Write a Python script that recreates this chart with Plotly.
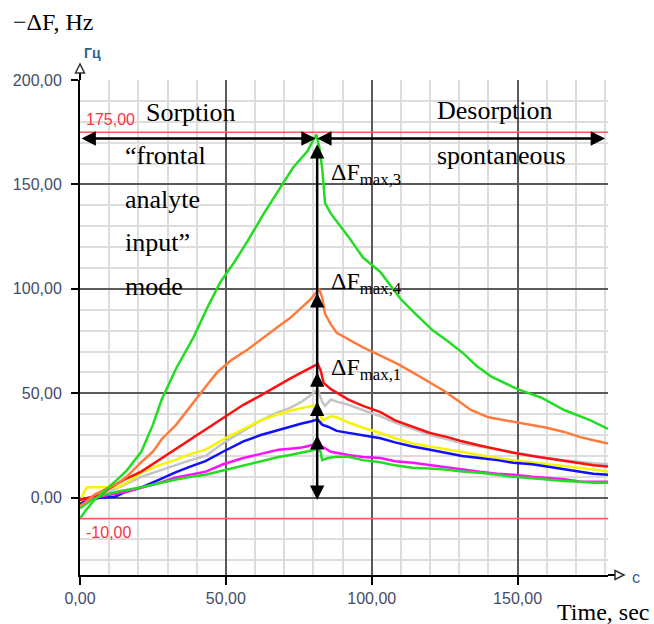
import plotly.graph_objects as go

# ---------------- data ----------------
green_big_t = [0, 2, 5, 10, 13, 16, 21, 25, 28, 33, 39, 44, 48, 53, 57.5, 63, 69, 73, 78, 81, 82, 83, 84, 86, 92, 97, 103, 110, 115, 121, 126, 131.5, 136, 141, 150, 158, 166, 175, 181]
green_big_v = [-10, -6, -1, 5, 9, 13, 22, 35, 47, 62, 77, 92, 103, 113, 123, 136, 149, 158, 166, 174, 168, 158, 141, 136, 125, 115, 108, 95, 88, 80, 75, 69, 63, 58, 52, 48, 42, 37, 33]

orange_t = [0, 2, 5, 10, 13, 16, 21, 25, 28, 33, 39, 43, 47, 52, 57.5, 63, 68, 72, 76, 79, 82, 83, 84, 86, 88, 92, 97, 103, 109, 114, 120, 125, 129, 134, 140, 148.6, 155, 160, 166, 171.5, 176, 181]
orange_v = [-4, -2, 1.5, 5, 7, 10, 17, 22, 28, 35, 46, 53, 60, 66, 71, 77, 82, 86, 91, 95, 100, 96, 88, 83, 79, 76, 72, 68, 64, 60, 55, 51, 47, 42, 38.5, 36.5, 35, 33.5, 31.5, 29, 27.5, 26]

red_t = [0, 3, 7, 10, 15, 21, 27, 32.5, 38, 43, 48, 52, 56, 62, 68, 72, 76, 79, 81.5, 82.5, 83.5, 86, 92, 97, 103, 108, 114, 120, 126, 131, 137, 143, 148.6, 155, 160, 166, 171.5, 176, 181]
red_v = [-1, 0, 1.5, 4.5, 8.5, 12.5, 18, 23, 28, 32.5, 37, 40.5, 44.5, 49, 54, 57, 60, 62, 64, 61, 55, 52, 47, 44, 41, 37, 34, 31, 29, 27, 25, 23, 21.5, 20, 19, 17.5, 16.5, 15.5, 15]

gray_t = [0, 5, 10, 15, 21, 27, 32.5, 38, 43, 50, 56, 62, 68, 72, 76, 79, 81.5, 83, 84, 86, 88, 92, 97, 103, 108, 114, 120, 126, 131, 137, 143, 148.6, 155, 160, 166, 171.5, 176, 181]
gray_v = [-2, 0, 3, 6, 10, 13, 15.5, 18, 20, 27, 32, 37, 41, 43, 46, 49, 52, 46, 44, 47, 46, 44.5, 42, 39, 36, 33, 30, 28, 26, 24.5, 23, 21.5, 20, 19, 18, 17, 16.5, 16]

yellow_t = [0, 1.5, 2.5, 8, 13, 17, 21, 27, 32.5, 38, 43, 50.5, 56, 62, 68, 73, 78, 81.5, 83, 86, 88, 92, 97, 103, 108, 114, 120, 126, 131, 137, 143, 148.6, 155, 160, 166, 171.5, 176, 181]
yellow_v = [-2.4, 3, 5, 5, 5, 8, 12, 15.5, 18, 21, 23, 29, 33, 37, 40, 42, 43.5, 44.5, 37, 39, 38.5, 36, 33.5, 31, 28.5, 26, 24.5, 23, 22, 20.5, 19, 18, 17, 16, 15, 14.5, 13.5, 12.5]

blue_t = [0, 3, 7, 12, 16, 21, 27, 32.5, 38, 43, 49, 56, 62, 68, 72, 76, 79, 81.5, 83, 85, 88, 92, 97, 103, 108, 114, 120, 126, 131, 137, 143, 148.6, 155, 160, 166, 171.5, 176, 181]
blue_v = [-3, -1, 0, 0.5, 3, 5, 8.5, 12, 15, 17.5, 22, 27, 30, 32.5, 34, 35.5, 36.5, 37.5, 35, 34, 32, 31, 30, 28.5, 26.5, 24.5, 23, 21.5, 20, 19, 18, 16.7, 16, 15, 13.5, 12.4, 11.5, 11]

magenta_t = [0, 5, 10, 15, 21, 27, 32.5, 38, 43, 49, 56, 62, 68, 72, 76, 79, 81.5, 83, 86, 92, 97, 103, 108, 114, 120, 126, 131, 137, 143, 148.6, 155, 160, 166, 171.5, 176, 181]
magenta_v = [-1, 0, 1.4, 2.5, 4.8, 7, 9.6, 11, 12.4, 16, 19, 21, 23, 23.5, 24, 25, 26, 24.5, 22, 20.5, 19.5, 19, 17.5, 16.7, 15.5, 14.4, 13.5, 12.4, 11.5, 11, 10, 9.6, 8.8, 7.7, 7.7, 7.7]

green_small_t = [0, 3, 7, 13, 21, 27, 32.5, 38, 43, 49, 56, 62, 68, 72, 76, 79, 81.5, 82.5, 83, 85, 88, 92, 97, 103, 108, 114, 120, 126, 131, 137, 143, 148.6, 155, 160, 166, 171.5, 176, 181]
green_small_v = [-5, -2, 1, 3, 5, 7, 8.6, 10, 11, 13, 15.5, 17.5, 19.5, 20.5, 21.5, 22.5, 23.5, 22, 18, 19, 19.6, 19.6, 18, 17, 15.5, 14.4, 14, 13.4, 12.5, 12, 11, 10, 9.3, 8.6, 8, 7.7, 7.2, 7.2]

x_tick_vals = [0, 50, 100, 150]
x_tick_text = ["0,00", "50,00", "100,00", "150,00"]
y_tick_vals = [0, 50, 100, 150, 200]
y_tick_text = ["0,00", "50,00", "100,00", "150,00", "200,00"]

limit_values = [175, -10]
limit_labels = ["175,00", "-10,00"]

peak_time = 80.8
arrow_level = 172
up_head_tips = [98, 60, 46, 30]

# ---------------- figure ----------------
W, H = 654, 624
L, R, T, B = 80, 46, 80, 49
PW, PH = W - L - R, H - T - B


def px(xp):
    return (xp - L) / PW


def py(yp):
    return (H - B - yp) / PH


fig = go.Figure()

series = [
    (gray_t, gray_v, "#c4c4c4"),
    (yellow_t, yellow_v, "#f5f500"),
    (blue_t, blue_v, "#1010ff"),
    (magenta_t, magenta_v, "#ff10ff"),
    (green_small_t, green_small_v, "#22dd22"),
    (red_t, red_v, "#ff1010"),
    (orange_t, orange_v, "#ff7a3c"),
    (green_big_t, green_big_v, "#22dd22"),
]
for t, v, c in series:
    fig.add_trace(go.Scatter(x=t, y=v, mode="lines", line=dict(color=c, width=2.5),
                             hoverinfo="skip", showlegend=False))

tick_font = dict(family="Liberation Sans, Arial", size=16, color="#464a6a")

fig.update_layout(
    width=W, height=H,
    margin=dict(l=L, r=R, t=T, b=B),
    paper_bgcolor="white", plot_bgcolor="white",
    showlegend=False,
    xaxis=dict(range=[0, 181], tickmode="array", tickvals=x_tick_vals, ticktext=x_tick_text,
               showgrid=True, gridcolor="#5a5a5a", gridwidth=1.5, zeroline=False,
               showline=True, linecolor="black", linewidth=2,
               ticks="outside", ticklen=8, tickwidth=1.5, tickcolor="black",
               tickfont=tick_font,
               minor=dict(tickmode="linear", tick0=0, dtick=10, showgrid=True,
                          gridcolor="#dddddd", gridwidth=2, ticks="")),
    yaxis=dict(range=[-37, 200], tickmode="array", tickvals=y_tick_vals, ticktext=y_tick_text,
               showgrid=True, gridcolor="#5a5a5a", gridwidth=1.5, zeroline=False,
               showline=True, linecolor="black", linewidth=2,
               ticks="outside", ticklen=7, tickwidth=1.5, tickcolor="black",
               tickfont=tick_font, ticklabelstandoff=6,
               minor=dict(tickmode="linear", tick0=0, dtick=10, showgrid=True,
                          gridcolor="#dddddd", gridwidth=2, ticks="")),
)

# red limit lines
for val, lab in zip(limit_values, limit_labels):
    fig.add_shape(type="line", xref="paper", x0=0, x1=1, yref="y", y0=val, y1=val,
                  line=dict(color="#ff5a5a", width=1.5), layer="above")
    fig.add_annotation(x=1.5, y=val, xref="x", yref="y", text=lab, showarrow=False,
                       xanchor="left", yanchor="bottom" if val > 0 else "top",
                       yshift=2 if val > 0 else -3,
                       font=dict(family="Liberation Sans, Arial", size=16, color="#ff3045"))

# axis extensions with hollow arrow heads
fig.add_shape(type="line", xref="paper", yref="paper", x0=0, x1=0, y0=1, y1=py(72),
              line=dict(color="black", width=2))
fig.add_shape(type="path", xref="paper", yref="paper",
              path=f"M {px(80)},{py(64)} L {px(75.5)},{py(73)} L {px(84.5)},{py(73)} Z",
              fillcolor="white", line=dict(color="#333333", width=1.5))
fig.add_shape(type="line", xref="paper", yref="paper", x0=1, x1=px(615), y0=0, y1=0,
              line=dict(color="black", width=2))
fig.add_shape(type="path", xref="paper", yref="paper",
              path=f"M {px(624)},{py(575)} L {px(615)},{py(570.5)} L {px(615)},{py(579.5)} Z",
              fillcolor="white", line=dict(color="#333333", width=1.5))

fig.add_annotation(xref="paper", yref="paper", x=px(82), y=py(53), text="<b>Гц</b>",
                   showarrow=False, xanchor="left", yanchor="middle",
                   font=dict(family="Liberation Sans, Arial", size=14, color="#2f5d9a"))
fig.add_annotation(xref="paper", yref="paper", x=px(630), y=py(577), text="c",
                   showarrow=False, xanchor="left", yanchor="middle",
                   font=dict(family="Liberation Sans, Arial", size=16, color="#2f5d9a"))

# black arrows
arrow_style = dict(showarrow=True, arrowhead=2, arrowsize=1.15, arrowwidth=2.5, arrowcolor="black",
                   startarrowhead=2, startarrowsize=1.15, standoff=0, startstandoff=0, text="",
                   xref="x", yref="y", axref="x", ayref="y")
fig.add_annotation(x=peak_time, y=arrow_level, ax=0, ay=arrow_level, arrowside="end+start", **arrow_style)
fig.add_annotation(x=180, y=arrow_level, ax=peak_time, ay=arrow_level, arrowside="end+start", **arrow_style)
fig.add_annotation(x=peak_time + 0.5, y=-1, ax=peak_time + 0.5, ay=170, arrowside="end+start", **arrow_style)
for tip in up_head_tips:
    fig.add_annotation(x=peak_time + 0.5, y=tip, ax=peak_time + 0.5, ay=tip - 6, arrowside="end", **arrow_style)

# texts
serif = "Liberation Serif, Times New Roman"
text_items = [
    ("Sorption", 21.9, 184.5, 26),
    ("Desorption", 121.6, 185.5, 26),
    ("spontaneous", 121.6, 164, 26),
    ("“frontal", 14.7, 164, 26),
    ("analyte", 14.7, 142.6, 26),
    ("input”", 14.7, 122, 26),
    ("mode", 14.7, 101, 26),
    ("ΔF<sub>max,3</sub>", 85.5, 155, 24),
    ("ΔF<sub>max,4</sub>", 85.5, 103, 24),
    ("ΔF<sub>max,1</sub>", 85.5, 61.7, 24),
]
for txt, xv, yv, fs in text_items:
    fig.add_annotation(x=xv, y=yv, xref="x", yref="y", text=txt, showarrow=False,
                       xanchor="left", yanchor="middle",
                       font=dict(family=serif, size=fs, color="black"))

fig.add_annotation(xref="paper", yref="paper", x=px(11), y=py(22), text="−ΔF, Hz",
                   showarrow=False, xanchor="left", yanchor="middle",
                   font=dict(family=serif, size=24, color="black"))
fig.add_annotation(xref="paper", yref="paper", x=px(651), y=py(612), text="Time, sec",
                   showarrow=False, xanchor="right", yanchor="middle",
                   font=dict(family=serif, size=24, color="black"))

fig.write_html("out.html")
